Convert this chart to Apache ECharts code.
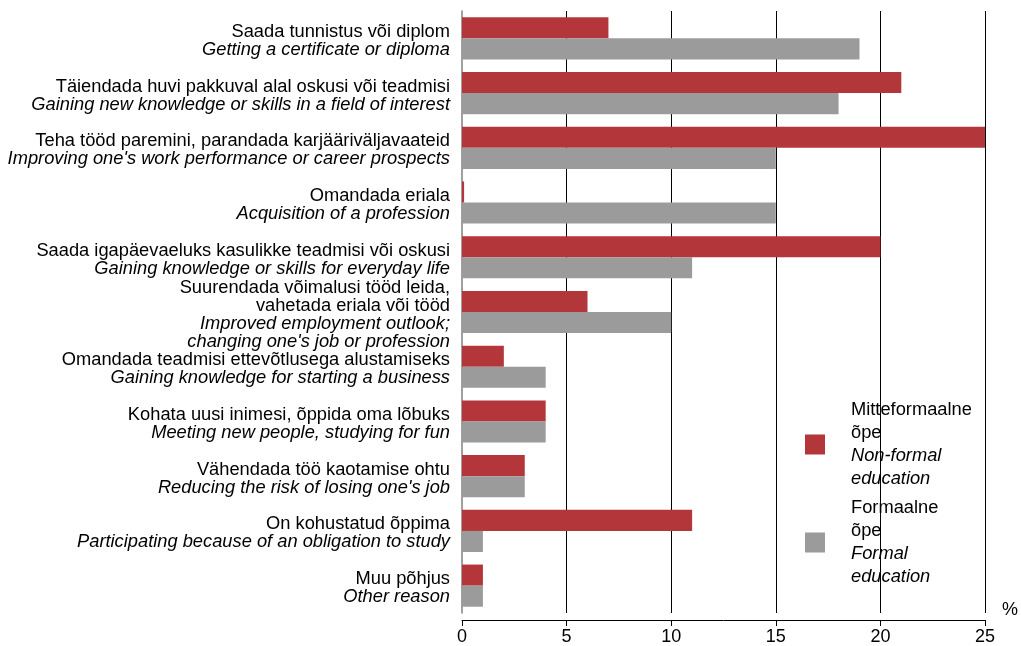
<!DOCTYPE html>
<html>
<head>
<meta charset="utf-8">
<script src="https://cdn.jsdelivr.net/npm/echarts@6/dist/echarts.min.js"></script>
<style>html,body{margin:0;padding:0;background:#fff;}#c{width:1021px;height:646px;}</style>
</head>
<body>
<div id="c"></div>
<script>
var estLabels = [
  'Saada tunnistus või diplom',
  'Täiendada huvi pakkuval alal oskusi või teadmisi',
  'Teha tööd paremini, parandada karjääriväljavaateid',
  'Omandada eriala',
  'Saada igapäevaeluks kasulikke teadmisi või oskusi',
  'Suurendada võimalusi tööd leida,\nvahetada eriala või tööd',
  'Omandada teadmisi ettevõtlusega alustamiseks',
  'Kohata uusi inimesi, õppida oma lõbuks',
  'Vähendada töö kaotamise ohtu',
  'On kohustatud õppima',
  'Muu põhjus'
];
var engLabels = [
  'Getting a certificate or diploma',
  'Gaining new knowledge or skills in a field of interest',
  "Improving one's work performance or career prospects",
  'Acquisition of a profession',
  'Gaining knowledge or skills for everyday life',
  "Improved employment outlook;\nchanging one's job or profession",
  'Gaining knowledge for starting a business',
  'Meeting new people, studying for fun',
  "Reducing the risk of losing one's job",
  'Participating because of an obligation to study',
  'Other reason'
];
var nonFormal = [7, 21, 25, 0.1, 20, 6, 2, 4, 3, 11, 1];
var formal = [19, 18, 15, 15, 11, 10, 4, 4, 3, 1, 1];
var seriesNames = ['Mitteformaalne õpe', 'Formaalne õpe'];
var legendEst = ['Mitteformaalne\nõpe', 'Formaalne\nõpe'];
var legendEng = ['Non-formal\neducation', 'Formal\neducation'];
var xTicks = {min: 0, max: 25, interval: 5};

var chart = echarts.init(document.getElementById('c'));
var FONT = '"Liberation Sans", Arial, sans-serif';
chart.setOption({
  animation: false,
  textStyle: {fontFamily: FONT},
  grid: {left: 462, right: 34, top: 11, bottom: 33, containLabel: false},
  legend: {
    orient: 'vertical',
    left: 800,
    top: 396,
    itemWidth: 20,
    itemHeight: 20,
    itemGap: 11,
    icon: 'rect',
    data: seriesNames,
    formatter: function (name) {
      var i = seriesNames.indexOf(name);
      return '{e|' + legendEst[i] + '}\n{i|' + legendEng[i] + '}';
    },
    textStyle: {
      padding: [0, 0, 0, 21],
      rich: {
        e: {fontSize: 18.3, lineHeight: 23, color: '#000', fontFamily: FONT},
        i: {fontSize: 18.3, lineHeight: 23, color: '#000', fontStyle: 'italic', fontFamily: FONT}
      }
    }
  },
  xAxis: {
    type: 'value',
    min: xTicks.min, max: xTicks.max, interval: xTicks.interval,
    offset: 7,
    name: '%',
    nameLocation: 'end',
    nameGap: 17,
    nameTextStyle: {fontSize: 18, color: '#000', verticalAlign: 'bottom', fontFamily: FONT, padding: [0, 0, 1, 0]},
    axisLine: {show: true, lineStyle: {color: '#000', width: 1}},
    axisTick: {show: true, length: 6, lineStyle: {color: '#000'}},
    axisLabel: {fontSize: 18, color: '#000', margin: 8, fontFamily: FONT},
    splitLine: {show: true, showMinLine: false, lineStyle: {color: '#000', width: 1}}
  },
  yAxis: {
    type: 'category',
    inverse: true,
    data: estLabels,
    axisLine: {show: true, lineStyle: {color: '#808080', width: 1.5}},
    axisTick: {show: false},
    splitLine: {show: false},
    axisLabel: {
      margin: 12,
      align: 'right',
      padding: [5, 0, 0, 0],
      formatter: function (v, idx) {
        return '{e|' + estLabels[idx] + '}\n{i|' + engLabels[idx] + '}';
      },
      rich: {
        e: {fontSize: 18.3, lineHeight: 18, color: '#000', align: 'right', fontFamily: FONT},
        i: {fontSize: 18.3, lineHeight: 18, color: '#000', fontStyle: 'italic', align: 'right', fontFamily: FONT}
      }
    }
  },
  series: [
    {
      name: seriesNames[0], type: 'bar', data: nonFormal,
      barGap: '0%', barCategoryGap: '23%',
      itemStyle: {color: '#B3363A'}
    },
    {
      name: seriesNames[1], type: 'bar', data: formal,
      barGap: '0%', barCategoryGap: '23%',
      itemStyle: {color: '#9B9B9B'}
    }
  ]
});
</script>
</body>
</html>
